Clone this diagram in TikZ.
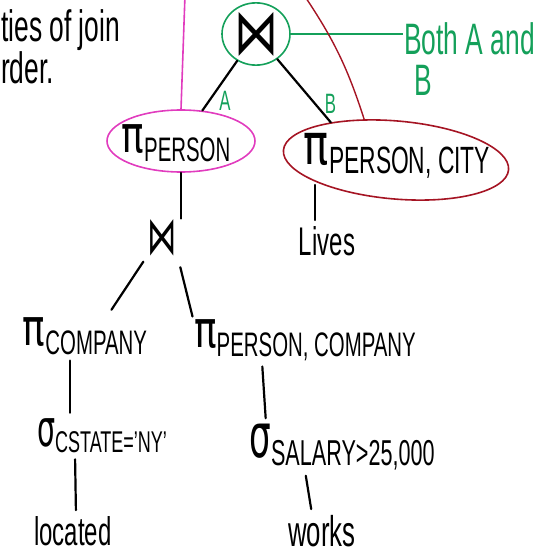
\documentclass[tikz,border=0pt]{standalone}
\usepackage{fontspec}
\usepackage{graphicx}
\usepackage{tikz}
\usetikzlibrary{shapes.geometric}
\setmainfont{Liberation Sans}[FakeStretch=0.6]
\newfontfamily\symfont{DejaVu Sans}
\definecolor{inkgreen}{RGB}{20,160,90}
\definecolor{inkpink}{RGB}{225,60,190}
\definecolor{inkred}{RGB}{165,20,35}
\newcommand{\proj}[1]{\scalebox{1.1}[1.5]{\symfont π}\raisebox{-0.25em}{#1}}
\newcommand{\sel}[1]{\scalebox{0.95}[1.7]{\symfont σ}\raisebox{-0.2em}{#1}}

\begin{document}
\begin{tikzpicture}[x=1pt, y=-1pt,
      hand/.style={inner sep=1pt, font=\fontsize{#1}{#1}\selectfont},
      ring/.style={ellipse, draw=#1, line width=1.6pt, inner sep=0pt},
      tag/.style={text=inkgreen, inner sep=1pt, font=\fontsize{28}{28}\selectfont},
      edge/.style={line width=2.2pt, line cap=round},
      stem/.style={edge, shorten <=5pt, shorten >=5pt}
    ]
    \useasboundingbox (0,0) rectangle (555,554);

    \node[hand=44, anchor=west] (tl1) at (0,30) {ties of join};
    \node[hand=44, anchor=west] (tl2) at (0,68) {rder.};

    \node[hand=40, ring=inkgreen, minimum width=68, minimum height=58] (topjoin) at (256,34) {\scalebox{1.1}[1.6]{\symfont ⋈}};
    \node[text=inkgreen, align=left, anchor=west, inner sep=1pt, font=\fontsize{44}{41}\selectfont] (bothnote) at (403,59) {Both A and\\\hspace{10pt}B};

    \node[hand=34] (pperson) at (176,143) {\proj{PERSON}};
    \node[ring=inkpink, minimum width=148, minimum height=62] (pring) at (181,141) {};
    \node[hand=38] (pcity) at (397,156) {\proj{PERSON, CITY}};
    \node[ring=inkred, minimum width=226, minimum height=78, rotate=-5] (cring) at (396,160) {};

    \node[hand=28] (lowjoin) at (162,238) {\scalebox{1.05}[1.9]{\symfont ⋈}};
    \node[hand=40] (lives) at (327,241) {Lives};

    \node[hand=34] (pcompany) at (85,336) {\proj{COMPANY}};
    \node[hand=34] (ppc) at (305,340) {\proj{PERSON, COMPANY}};
    \node[hand=30] (selny) at (102,436) {\sel{CSTATE='NY'}};
    \node[hand=36] (selsal) at (342,447) {\sel{SALARY>25,000}};
    \node[hand=40] (located) at (73,531) {located};
    \node[hand=43] (works) at (322,531) {works};

    \coordinate (pinktop) at (185,-5);
    \coordinate (redtop) at (304,-5);

    \draw[edge] (topjoin) -- node[tag, pos=0.8, right=8] {A} (pring);
    \draw[edge] (topjoin) -- node[tag, pos=0.7, right=8] {B} (cring.155);
    \draw[inkgreen, line width=2pt] (topjoin.east) -- (topjoin.east -| bothnote.west);
    \draw[inkpink, line width=1.6pt] (pring.north) -- (pinktop);
    \draw[inkred, line width=1.4pt] (cring.133) to[bend right=8] (redtop);

    \draw[edge] (pring.south) -- (pring.south |- lowjoin.north);
    \draw[stem] ([xshift=-82pt]pcity.south) -- ([xshift=-12pt]lives.north);
    \draw[edge, shorten <=5pt, shorten >=8pt] (lowjoin.south west) -- ([xshift=22pt]pcompany.north);
    \draw[edge, shorten <=10pt, shorten >=2pt] (lowjoin.south east) -- (ppc.north west);
    \draw[stem] ([xshift=-15pt]pcompany.south) -- ([xshift=-32pt]selny.north);
    \draw[stem] ([xshift=-43pt]ppc.south) -- ([xshift=-76pt]selsal.north);
    \draw[stem] ([xshift=-27pt]selny.south) -- ([xshift=3pt]located.north);
    \draw[stem] ([xshift=-37pt]selsal.south) -- ([xshift=-10pt]works.north);
  \end{tikzpicture}
\end{document}
